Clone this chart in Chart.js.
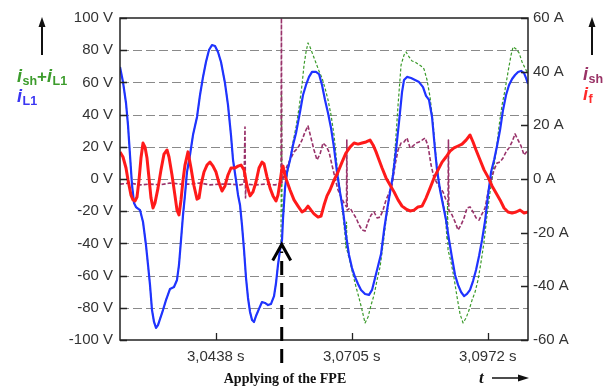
<!DOCTYPE html>
<html>
<head>
<meta charset="utf-8">
<script src="https://cdn.jsdelivr.net/npm/chart.js@4.4.1/dist/chart.umd.min.js"></script>
<style>
  html, body { margin: 0; padding: 0; background: #fff; }
  #wrap { width: 608px; height: 387px; position: relative; }
</style>
</head>
<body>
<div id="wrap"><canvas id="c" width="608" height="387"></canvas></div>
<script>
// Time axis (s)
const timeMin = 3.02501;
const timeMax = 3.10511;
const timeTicks = [3.0438, 3.0705, 3.0972];
// Moment the FPE is switched on, and where its arrow points on the left axis
const fpeTime = 3.05676;
const fpeArrowTip = -40;

// Axis tick values
const voltTicks = [-100, -80, -60, -40, -20, 0, 20, 40, 60, 80, 100];
const ampTicks = [-60, -40, -20, 0, 20, 40, 60];

// i_L1, [t (s), value on the left axis]
const iL1 = [
  [3.02501,69.6],[3.02560,60.2],[3.02619,47.2],[3.02658,33.5],[3.02697,14.9],[3.02737,-3.7],[3.02776,-14.9],[3.02815,-17.4],
  [3.02894,-19.3],[3.02953,-26.7],[3.03011,-41.0],[3.03051,-53.4],[3.03090,-65.8],[3.03129,-81.4],[3.03169,-88.8],[3.03208,-92.5],
  [3.03247,-90.7],[3.03286,-87.0],[3.03345,-81.4],[3.03404,-75.2],[3.03483,-68.3],[3.03561,-67.1],[3.03620,-62.7],[3.03659,-53.4],
  [3.03699,-37.9],[3.03738,-22.4],[3.03777,-9.9],[3.03816,4.3],[3.03875,14.9],[3.03934,27.3],[3.04013,38.5],[3.04072,52.2],
  [3.04131,63.4],[3.04189,72.7],[3.04248,80.1],[3.04307,83.2],[3.04366,82.6],[3.04425,78.9],[3.04484,72.7],[3.04562,59.6],
  [3.04621,46.0],[3.04680,27.3],[3.04720,11.8],[3.04778,-0.6],[3.04818,-9.9],[3.04857,-16.1],[3.04896,-28.6],[3.04936,-44.1],
  [3.04975,-61.5],[3.05014,-73.9],[3.05054,-82.6],[3.05093,-87.6],[3.05132,-88.8],[3.05171,-85.1],[3.05230,-80.7],[3.05289,-76.4],
  [3.05348,-77.0],[3.05407,-78.3],[3.05466,-77.6],[3.05525,-72.7],[3.05564,-64.6],[3.05603,-53.4],[3.05643,-44.1],[3.05682,-37.9],
  [3.05702,-24.2],[3.05741,-5.6],[3.05780,4.3],[3.05839,11.8],[3.05898,21.1],[3.05957,28.6],[3.06035,41.6],[3.06094,52.2],
  [3.06153,58.4],[3.06212,63.4],[3.06271,66.5],[3.06349,66.5],[3.06408,65.2],[3.06467,58.4],[3.06526,49.1],[3.06585,41.0],
  [3.06644,31.7],[3.06703,19.3],[3.06761,4.3],[3.06820,-8.1],[3.06879,-19.3],[3.06938,-34.8],[3.06997,-47.2],[3.07056,-55.3],
  [3.07115,-60.9],[3.07174,-65.2],[3.07233,-68.9],[3.07312,-71.4],[3.07390,-72.0],[3.07449,-68.9],[3.07508,-61.5],[3.07567,-54.0],
  [3.07626,-46.6],[3.07685,-31.7],[3.07744,-19.3],[3.07803,-8.1],[3.07861,2.5],[3.07920,18.0],[3.07979,35.4],[3.08038,54.0],
  [3.08077,61.5],[3.08136,63.4],[3.08215,62.7],[3.08293,61.5],[3.08372,60.2],[3.08450,57.1],[3.08509,51.6],[3.08568,49.1],
  [3.08627,38.5],[3.08686,18.0],[3.08725,5.6],[3.08784,-6.8],[3.08843,-16.1],[3.08902,-25.5],[3.08961,-37.9],[3.09020,-49.1],
  [3.09079,-59.6],[3.09138,-65.8],[3.09197,-70.2],[3.09256,-72.7],[3.09314,-71.4],[3.09373,-68.9],[3.09432,-63.4],[3.09491,-56.5],
  [3.09550,-47.8],[3.09609,-37.9],[3.09668,-26.1],[3.09727,-9.9],[3.09786,4.3],[3.09845,11.8],[3.09903,20.5],[3.09962,30.4],
  [3.10021,42.9],[3.10080,52.2],[3.10139,58.4],[3.10198,62.1],[3.10257,64.6],[3.10316,66.5],[3.10375,67.1],[3.10434,65.8],
  [3.10473,62.7],[3.10512,59.0]
];

// i_sh + i_L1, [t (s), value on the left axis]
const iShPlusL1 = [
  [3.02501,69.6],[3.02560,60.2],[3.02619,47.2],[3.02658,33.5],[3.02697,14.9],[3.02737,-3.7],[3.02776,-14.9],[3.02815,-17.4],
  [3.02894,-19.3],[3.02953,-26.7],[3.03011,-41.0],[3.03051,-53.4],[3.03090,-65.8],[3.03129,-81.4],[3.03169,-88.8],[3.03208,-92.5],
  [3.03247,-90.7],[3.03286,-87.0],[3.03345,-81.4],[3.03404,-75.2],[3.03483,-68.3],[3.03561,-67.1],[3.03620,-62.7],[3.03659,-53.4],
  [3.03699,-37.9],[3.03738,-22.4],[3.03777,-9.9],[3.03816,4.3],[3.03875,14.9],[3.03934,27.3],[3.04013,38.5],[3.04072,52.2],
  [3.04131,63.4],[3.04189,72.7],[3.04248,80.1],[3.04307,83.2],[3.04366,82.6],[3.04425,78.9],[3.04484,72.7],[3.04562,59.6],
  [3.04621,46.0],[3.04680,27.3],[3.04720,11.8],[3.04778,-0.6],[3.04818,-9.9],[3.04857,-16.1],[3.04896,-28.6],[3.04936,-44.1],
  [3.04975,-61.5],[3.05014,-73.9],[3.05054,-82.6],[3.05093,-87.6],[3.05132,-88.8],[3.05171,-85.1],[3.05230,-80.7],[3.05289,-76.4],
  [3.05348,-77.0],[3.05407,-78.3],[3.05466,-77.6],[3.05525,-72.7],[3.05564,-64.6],[3.05603,-53.4],
  [3.05643,-44.1],[3.05662,-41.0],[3.05672,53.4],[3.05682,-16.1],[3.05702,-24.2],[3.05741,-5.6],[3.05780,2.5],[3.05839,11.8],
  [3.05898,23.0],[3.05957,32.3],[3.06016,44.1],[3.06074,58.4],[3.06114,70.8],[3.06153,78.9],[3.06192,84.5],[3.06231,82.0],
  [3.06290,77.0],[3.06349,72.0],[3.06408,67.1],[3.06467,62.7],[3.06526,56.5],[3.06585,49.1],[3.06644,39.8],[3.06703,27.3],
  [3.06761,8.7],[3.06820,-6.8],[3.06879,-22.4],[3.06919,-34.8],[3.06938,-42.9],[3.06948,-26.7],[3.06958,-44.1],[3.07017,-51.6],
  [3.07076,-59.6],[3.07135,-67.1],[3.07194,-73.9],[3.07253,-81.4],[3.07312,-89.4],[3.07371,-85.7],[3.07430,-78.3],[3.07489,-72.0],
  [3.07548,-62.7],[3.07606,-54.7],[3.07665,-41.0],[3.07724,-25.5],[3.07783,-13.0],[3.07842,-0.6],[3.07901,18.0],[3.07960,46.0],
  [3.08019,70.8],[3.08077,77.0],[3.08117,78.9],[3.08176,75.8],[3.08235,73.3],[3.08293,72.7],[3.08352,71.4],[3.08411,70.2],
  [3.08470,68.3],[3.08529,61.5],[3.08588,50.9],[3.08647,34.8],[3.08706,13.0],[3.08765,-2.5],[3.08824,-11.8],[3.08883,-20.5],
  [3.08922,-37.9],[3.08932,-14.9],[3.08941,-44.1],[3.09000,-51.6],[3.09059,-61.5],[3.09118,-73.3],[3.09177,-83.9],[3.09236,-89.4],
  [3.09295,-86.3],[3.09354,-81.4],[3.09413,-75.2],[3.09472,-70.2],[3.09530,-62.7],[3.09589,-51.6],[3.09648,-39.1],[3.09707,-22.4],
  [3.09766,-8.1],[3.09825,4.3],[3.09884,16.8],[3.09943,32.9],[3.10002,46.0],[3.10060,55.3],[3.10119,66.5],[3.10178,77.0],
  [3.10218,82.0],[3.10277,80.7],[3.10336,78.3],[3.10395,72.7],[3.10453,68.9],[3.10512,65.2]
];

// i_f, [t (s), A on the right axis]
const iF = [
  [3.02501,10.1],[3.02560,8.2],[3.02619,4.1],[3.02658,-0.4],[3.02717,-6.0],[3.02756,-7.8],[3.02795,-8.2],[3.02835,-6.7],
  [3.02874,-0.4],[3.02913,7.8],[3.02953,13.4],[3.02992,11.9],[3.03031,7.8],[3.03070,0.4],[3.03110,-7.1],[3.03149,-10.8],
  [3.03188,-8.9],[3.03247,-3.4],[3.03306,3.4],[3.03365,9.3],[3.03424,10.8],[3.03463,8.2],[3.03522,1.5],[3.03581,-6.3],
  [3.03620,-11.6],[3.03659,-13.4],[3.03699,-7.8],[3.03738,-0.4],[3.03777,5.2],[3.03836,10.1],[3.03895,4.1],[3.03954,-2.6],
  [3.04013,-7.5],[3.04052,-7.1],[3.04091,-2.2],[3.04150,2.6],[3.04209,5.2],[3.04268,6.3],[3.04327,4.8],[3.04386,2.6],
  [3.04445,-1.5],[3.04504,-4.5],[3.04562,-2.6],[3.04621,1.5],[3.04680,4.1],[3.04759,4.1],[3.04818,4.8],[3.04877,5.2],
  [3.04936,3.4],[3.04995,-2.6],[3.05054,-6.3],[3.05112,-4.8],[3.05171,-1.1],[3.05230,4.1],[3.05289,6.3],[3.05329,5.6],
  [3.05388,0.7],[3.05447,-3.4],[3.05505,-6.3],[3.05564,-8.2],[3.05603,-6.0],[3.05643,-1.1],[3.05682,4.1],[3.05702,4.8],
  [3.05741,1.1],[3.05839,-4.1],[3.05917,-7.8],[3.05996,-10.1],[3.06074,-12.3],[3.06133,-11.6],[3.06192,-10.1],[3.06251,-11.6],
  [3.06310,-13.0],[3.06389,-14.2],[3.06448,-13.8],[3.06507,-9.7],[3.06565,-6.3],[3.06624,-4.1],[3.06703,-0.4],[3.06781,2.6],
  [3.06860,6.3],[3.06938,9.7],[3.07017,11.9],[3.07096,13.4],[3.07174,13.0],[3.07253,13.4],[3.07331,13.8],[3.07410,14.5],
  [3.07469,12.7],[3.07528,10.1],[3.07587,7.1],[3.07646,4.1],[3.07724,0.4],[3.07803,-2.2],[3.07881,-4.8],[3.07960,-7.8],
  [3.08038,-10.1],[3.08117,-11.2],[3.08195,-11.9],[3.08274,-11.6],[3.08352,-10.4],[3.08431,-10.1],[3.08509,-7.1],[3.08588,-3.4],
  [3.08666,0.4],[3.08745,3.4],[3.08824,6.3],[3.08902,8.2],[3.08981,10.4],[3.09059,11.6],[3.09138,12.3],[3.09216,13.0],
  [3.09295,14.5],[3.09373,16.4],[3.09432,13.8],[3.09491,10.8],[3.09570,7.1],[3.09648,3.4],[3.09727,0.7],[3.09805,-2.6],
  [3.09884,-5.2],[3.09962,-7.8],[3.10041,-10.8],[3.10119,-12.3],[3.10198,-12.7],[3.10277,-12.3],[3.10355,-11.6],[3.10434,-12.7],
  [3.10512,-12.3]
];

// i_sh, [t (s), A on the right axis]
const iSh = [
  [3.02501,-1.9],[3.02697,-1.5],[3.02894,-2.2],[3.03090,-1.9],[3.03286,-2.2],[3.03483,-1.5],[3.03679,-1.9],[3.03875,-1.9],
  [3.04072,-1.5],[3.04268,-2.2],[3.04464,-1.9],[3.04661,-1.9],[3.04857,-2.2],[3.04936,-1.9],[3.04955,19.4],[3.04965,-7.1],
  [3.04975,-1.9],[3.05151,-2.2],[3.05348,-1.9],[3.05544,-2.2],[3.05662,-1.5],[3.05670,60.0],[3.05678,-1.5],[3.05721,1.5],
  [3.05780,4.8],[3.05839,7.1],[3.05917,10.1],[3.05996,11.6],[3.06074,14.5],[3.06133,17.5],[3.06192,19.8],[3.06251,15.3],
  [3.06310,10.8],[3.06369,7.1],[3.06428,9.3],[3.06487,13.4],[3.06546,12.3],[3.06605,10.1],[3.06663,5.2],[3.06722,0.4],
  [3.06781,-4.1],[3.06840,-6.7],[3.06899,-8.9],[3.06948,-10.4],[3.06954,14.5],[3.06962,-11.6],[3.07017,-10.8],[3.07076,-12.7],
  [3.07135,-14.5],[3.07194,-17.1],[3.07253,-19.0],[3.07312,-19.4],[3.07371,-16.0],[3.07430,-13.4],[3.07489,-12.3],[3.07548,-14.5],
  [3.07606,-14.2],[3.07665,-11.6],[3.07724,-7.8],[3.07783,-5.2],[3.07842,-2.2],[3.07901,5.2],[3.07960,10.8],[3.08019,13.4],
  [3.08077,13.8],[3.08136,15.3],[3.08195,11.6],[3.08254,12.3],[3.08313,13.4],[3.08372,13.8],[3.08431,14.5],[3.08490,15.3],
  [3.08549,12.3],[3.08608,5.2],[3.08666,0.4],[3.08725,-1.5],[3.08784,-3.4],[3.08843,-4.8],[3.08902,-7.8],[3.08941,-8.6],
  [3.08949,14.5],[3.08957,-11.6],[3.09020,-13.4],[3.09079,-16.0],[3.09138,-19.0],[3.09197,-17.1],[3.09256,-14.5],[3.09314,-10.8],
  [3.09373,-10.4],[3.09432,-12.3],[3.09491,-14.5],[3.09550,-15.3],[3.09609,-13.0],[3.09668,-10.8],[3.09727,-4.8],[3.09786,-0.4],
  [3.09845,3.4],[3.09903,6.0],[3.09962,6.3],[3.10021,7.8],[3.10080,10.1],[3.10139,11.6],[3.10198,13.8],[3.10257,16.8],
  [3.10316,14.5],[3.10375,12.3],[3.10434,8.9],[3.10512,10.8]
];

const toXY = pairs => pairs.map(p => ({ x: p[0], y: p[1] }));

const LABEL_FONT = '"Liberation Sans", Arial, sans-serif';
const SERIF_FONT = '"Liberation Serif", "Times New Roman", serif';

// Draw "i" with a subscript, e.g. i_sh
function drawSymbol(ctx, parts, x, y) {
  let cx = x;
  parts.forEach(p => {
    ctx.fillStyle = p.color;
    ctx.font = p.font;
    ctx.fillText(p.text, cx, y + (p.dy || 0));
    cx += ctx.measureText(p.text).width + (p.gap || 0);
  });
}

function upArrow(ctx, x, yTop, yBottom) {
  ctx.save();
  ctx.strokeStyle = '#111';
  ctx.fillStyle = '#111';
  ctx.lineWidth = 2;
  ctx.beginPath();
  ctx.moveTo(x, yBottom);
  ctx.lineTo(x, yTop + 8);
  ctx.stroke();
  ctx.beginPath();
  ctx.moveTo(x, yTop);
  ctx.lineTo(x - 3.5, yTop + 10);
  ctx.lineTo(x + 3.5, yTop + 10);
  ctx.closePath();
  ctx.fill();
  ctx.restore();
}

const decorations = {
  id: 'decorations',
  beforeDatasetsDraw(chart) {
    const { ctx, chartArea: a, scales } = chart;
    const yl = scales.yV;
    ctx.save();
    ctx.strokeStyle = '#8a8a8a';
    ctx.lineWidth = 1.2;
    ctx.setLineDash([9, 4]);
    voltTicks.forEach(v => {
      if (Math.abs(v) >= 100) return;
      const y = Math.round(yl.getPixelForValue(v)) + 0.5;
      ctx.beginPath();
      ctx.moveTo(a.left, y);
      ctx.lineTo(a.right, y);
      ctx.stroke();
    });
    ctx.restore();
  },
  afterDatasetsDraw(chart) {
    const { ctx, chartArea: a, scales } = chart;
    ctx.save();
    // inward tick marks
    ctx.strokeStyle = '#222';
    ctx.lineWidth = 1.3;
    ctx.beginPath();
    voltTicks.forEach(v => {
      const y = Math.round(scales.yV.getPixelForValue(v)) + 0.5;
      ctx.moveTo(a.left, y); ctx.lineTo(a.left + 7, y);
    });
    ampTicks.forEach(v => {
      const y = Math.round(scales.yA.getPixelForValue(v)) + 0.5;
      ctx.moveTo(a.right, y); ctx.lineTo(a.right - 7, y);
    });
    timeTicks.forEach(v => {
      const x = Math.round(scales.x.getPixelForValue(v)) + 0.5;
      ctx.moveTo(x, a.bottom); ctx.lineTo(x, a.bottom - 7);
    });
    ctx.stroke();
    // plot frame
    ctx.lineWidth = 1.5;
    ctx.strokeRect(a.left, a.top, a.right - a.left, a.bottom - a.top);

    // FPE switch-on arrow
    const fx = scales.x.getPixelForValue(fpeTime);
    const tip = scales.yV.getPixelForValue(fpeArrowTip);
    ctx.strokeStyle = '#000';
    ctx.lineWidth = 3;
    ctx.setLineDash([14, 8]);
    ctx.lineDashOffset = 0;
    ctx.beginPath();
    ctx.moveTo(fx, a.bottom + 23);
    ctx.lineTo(fx, tip + 8);
    ctx.stroke();
    ctx.setLineDash([]);
    ctx.beginPath();
    ctx.moveTo(fx - 9, tip + 17);
    ctx.lineTo(fx, tip + 1);
    ctx.lineTo(fx + 9, tip + 17);
    ctx.stroke();
    ctx.restore();
  },
  afterDraw(chart) {
    const { ctx, chartArea: a } = chart;
    ctx.save();
    ctx.textBaseline = 'alphabetic';
    ctx.textAlign = 'left';
    const bigI = 'bold italic 18px ' + LABEL_FONT;
    const sub = 'bold 12.5px ' + LABEL_FONT;
    const plus = 'bold 17px ' + LABEL_FONT;
    const green = '#3c9c2c', blue = '#3a35f2', purple = '#993366', red = '#ff2a2a';

    upArrow(ctx, 42, 17, 55);
    drawSymbol(ctx, [
      { text: 'i', font: bigI, color: green, gap: 0.5 },
      { text: 'sh', font: sub, color: green, dy: 3 },
      { text: '+', font: plus, color: green },
      { text: 'i', font: bigI, color: green, gap: 0.5 },
      { text: 'L1', font: sub, color: green, dy: 3 }
    ], 17, 82);
    drawSymbol(ctx, [
      { text: 'i', font: bigI, color: blue, gap: 0.5 },
      { text: 'L1', font: sub, color: blue, dy: 3 }
    ], 17, 102);

    upArrow(ctx, 592, 17, 55);
    drawSymbol(ctx, [
      { text: 'i', font: bigI, color: purple, gap: 0.5 },
      { text: 'sh', font: sub, color: purple, dy: 3 }
    ], 583, 80);
    drawSymbol(ctx, [
      { text: 'i', font: bigI, color: red, gap: 0.5 },
      { text: 'f', font: sub, color: red, dy: 3 }
    ], 583, 100);

    // caption under the time axis
    ctx.fillStyle = '#111';
    ctx.font = 'bold 14px ' + SERIF_FONT;
    ctx.textAlign = 'center';
    ctx.fillText('Applying of the FPE', 285, 383);
    ctx.textAlign = 'left';
    ctx.font = 'bold italic 17px ' + SERIF_FONT;
    ctx.fillText('t', 479, 383);
    ctx.strokeStyle = '#111';
    ctx.lineWidth = 1.5;
    ctx.beginPath();
    ctx.moveTo(492, 378);
    ctx.lineTo(520, 378);
    ctx.stroke();
    ctx.beginPath();
    ctx.moveTo(529, 378);
    ctx.lineTo(518, 374.5);
    ctx.lineTo(518, 381.5);
    ctx.closePath();
    ctx.fill();
    ctx.restore();
  }
};

new Chart(document.getElementById('c'), {
  type: 'line',
  data: {
    datasets: [
      { label: 'i_f', data: toXY(iF), yAxisID: 'yA', borderColor: '#ff1a1a', borderWidth: 3 },
      { label: 'i_L1', data: toXY(iL1), yAxisID: 'yV', borderColor: '#1f33ff', borderWidth: 2.2 },
      { label: 'i_sh', data: toXY(iSh), yAxisID: 'yA', borderColor: '#99336b', borderWidth: 1.6, borderDash: [4, 2] },
      { label: 'i_sh+i_L1', data: toXY(iShPlusL1), yAxisID: 'yV', borderColor: '#3a9a2a', borderWidth: 1.2, borderDash: [3, 2] }
    ]
  },
  options: {
    responsive: false,
    devicePixelRatio: 1,
    animation: false,
    events: [],
    elements: { point: { radius: 0 }, line: { tension: 0, borderJoinStyle: 'round' } },
    layout: { padding: { top: 18, left: 0, right: 0, bottom: 0 } },
    plugins: { legend: { display: false }, tooltip: { enabled: false }, title: { display: false } },
    scales: {
      x: {
        type: 'linear',
        min: timeMin,
        max: timeMax,
        afterBuildTicks: s => { s.ticks = timeTicks.map(v => ({ value: v })); },
        afterFit: s => { s.height = 47; },
        grid: { display: false, drawTicks: false },
        border: { display: false },
        ticks: {
          autoSkip: false, maxRotation: 0, padding: 8,
          color: '#333',
          font: { family: LABEL_FONT, size: 15 },
          callback: v => v.toFixed(4).replace('.', ',') + ' s'
        }
      },
      yV: {
        type: 'linear',
        position: 'left',
        min: -100, max: 100,
        afterBuildTicks: s => { s.ticks = voltTicks.map(v => ({ value: v })); },
        afterFit: s => { s.width = 120; },
        grid: { display: false, drawTicks: false },
        border: { display: false },
        ticks: {
          padding: 7, color: '#333',
          font: { family: LABEL_FONT, size: 15 },
          callback: v => v + ' V'
        }
      },
      yA: {
        type: 'linear',
        position: 'right',
        min: -60, max: 60,
        afterBuildTicks: s => { s.ticks = ampTicks.map(v => ({ value: v })); },
        afterFit: s => { s.width = 80; },
        grid: { display: false, drawTicks: false },
        border: { display: false },
        ticks: {
          padding: 5, color: '#333',
          font: { family: LABEL_FONT, size: 15 },
          callback: v => v + ' A'
        }
      }
    }
  },
  plugins: [decorations]
});
</script>
</body>
</html>
